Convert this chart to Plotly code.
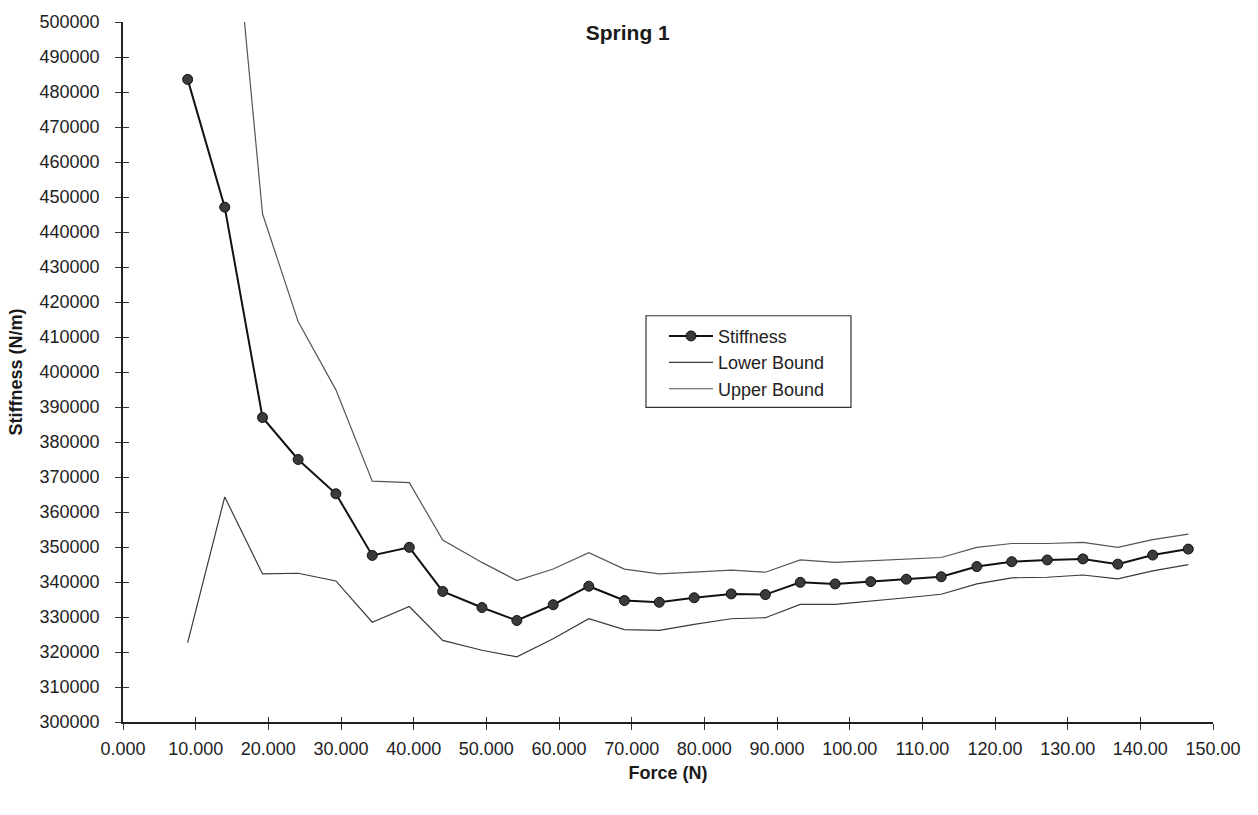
import plotly.graph_objects as go

# Applied force (N) at each measurement step
force = [8.9, 14.0, 19.2, 24.1, 29.3, 34.3, 39.4, 44.0, 49.4, 54.2,
         59.2, 64.1, 69.0, 73.8, 78.6, 83.7, 88.4, 93.2, 98.0, 102.9,
         107.8, 112.6, 117.5, 122.3, 127.2, 132.1, 136.9, 141.7, 146.6]

# Measured stiffness (N/m)
stiffness = [483600, 447100, 387000, 375000, 365200, 347600, 349900, 337300, 332700, 329000,
             333500, 338800, 334700, 334200, 335500, 336600, 336400, 339900, 339450, 340100,
             340800, 341500, 344400, 345800, 346300, 346600, 345100, 347700, 349400]

# Lower confidence bound (N/m)
lower_bound = [322700, 364300, 342300, 342500, 340300, 328500, 333000, 323300, 320500, 318600,
               323800, 329500, 326400, 326200, 327900, 329500, 329800, 333600, 333600, 334500,
               335500, 336500, 339450, 341200, 341350, 342000, 340900, 343200, 344950]

# Upper confidence bound (N/m); the first two points lie above the plotted range
upper_bound = [640000, 560000, 445200, 414400, 394900, 368800, 368400, 352000, 345600, 340400,
               343700, 348400, 343700, 342300, 342800, 343400, 342800, 346300, 345600, 346000,
               346400, 347000, 349900, 351000, 351000, 351300, 349900, 352100, 353700]

x_tick_vals = [0, 10, 20, 30, 40, 50, 60, 70, 80, 90, 100, 110, 120, 130, 140, 150]
x_tick_text = ["0.000", "10.000", "20.000", "30.000", "40.000", "50.000", "60.000", "70.000",
               "80.000", "90.000", "100.00", "110.00", "120.00", "130.00", "140.00", "150.00"]
y_tick_vals = list(range(300000, 500001, 10000))

FONT = "Arial, 'Liberation Sans', Helvetica, sans-serif"

# plot-area geometry in pixels
W, H = 1258, 815
L, R, T, B = 123, 45, 19, 93
PW, PH = W - L - R, H - T - B


def px_x(p):
    return (p - L) / PW


def px_y(p):
    return (H - B - p) / PH


fig = go.Figure()

fig.add_trace(go.Scatter(
    x=force, y=stiffness, name="Stiffness", mode="lines+markers",
    line=dict(color="#111111", width=2),
    marker=dict(size=10, color="#3a3a3a", line=dict(color="#111111", width=1)),
))
fig.add_trace(go.Scatter(
    x=force, y=lower_bound, name="Lower Bound", mode="lines",
    line=dict(color="#3a3a3a", width=1.2),
))
fig.add_trace(go.Scatter(
    x=force, y=upper_bound, name="Upper Bound", mode="lines",
    line=dict(color="#555555", width=1.2),
))

axis_common = dict(
    showgrid=False, zeroline=False, showline=True,
    linecolor="#222222", linewidth=1.5,
    ticks="outside", ticklen=6, tickwidth=1, tickcolor="#333333",
    tickfont=dict(family=FONT, size=18, color="#222222"),
)

fig.update_layout(
    width=W, height=H,
    margin=dict(l=L, r=R, t=T, b=B),
    paper_bgcolor="white", plot_bgcolor="white",
    title=dict(text="<b>Spring 1</b>", x=0.499, xref="container", xanchor="center",
               y=1 - 33 / H, yref="container", yanchor="middle",
               font=dict(family=FONT, size=21, color="#1a1a1a")),
    xaxis=dict(range=[0, 150], tickvals=x_tick_vals, ticktext=x_tick_text,
               ticklabelstandoff=4,
               title=dict(text="<b>Force (N)</b>", standoff=8,
                          font=dict(family=FONT, size=18, color="#1a1a1a")),
               **axis_common),
    yaxis=dict(range=[300000, 500000], tickvals=y_tick_vals,
               tickformat="d", ticklabelstandoff=12,
               title=dict(text="<b>Stiffness (N/m)</b>", standoff=12,
                          font=dict(family=FONT, size=18, color="#1a1a1a")),
               **axis_common),
    # inward tick marks so that ticks cross the axis lines
    xaxis2=dict(overlaying="x", matches="x", range=[0, 150], tickvals=x_tick_vals,
                showticklabels=False, showgrid=False, zeroline=False, showline=False,
                ticks="inside", ticklen=5, tickwidth=1, tickcolor="#333333", side="bottom"),
    yaxis2=dict(overlaying="y", matches="y", range=[300000, 500000], tickvals=y_tick_vals,
                showticklabels=False, showgrid=False, zeroline=False, showline=False,
                ticks="inside", ticklen=6, tickwidth=1, tickcolor="#333333", side="left"),
    showlegend=True,
    legend=dict(x=px_x(664), y=px_y(316), xanchor="left", yanchor="top",
                bgcolor="rgba(0,0,0,0)", borderwidth=0,
                font=dict(family=FONT, size=18, color="#222222"),
                itemwidth=44, tracegroupgap=0),
    # legend frame
    shapes=[dict(type="rect", xref="paper", yref="paper",
                 x0=px_x(646), x1=px_x(851), y0=px_y(406), y1=px_y(314),
                 line=dict(color="#333333", width=1.2), fillcolor="white", layer="above")],
)

# invisible trace so the overlaid tick axes are rendered
fig.add_trace(go.Scatter(x=[None], y=[None], xaxis="x2", yaxis="y2",
                         showlegend=False, hoverinfo="skip"))

fig.write_html("out.html")
